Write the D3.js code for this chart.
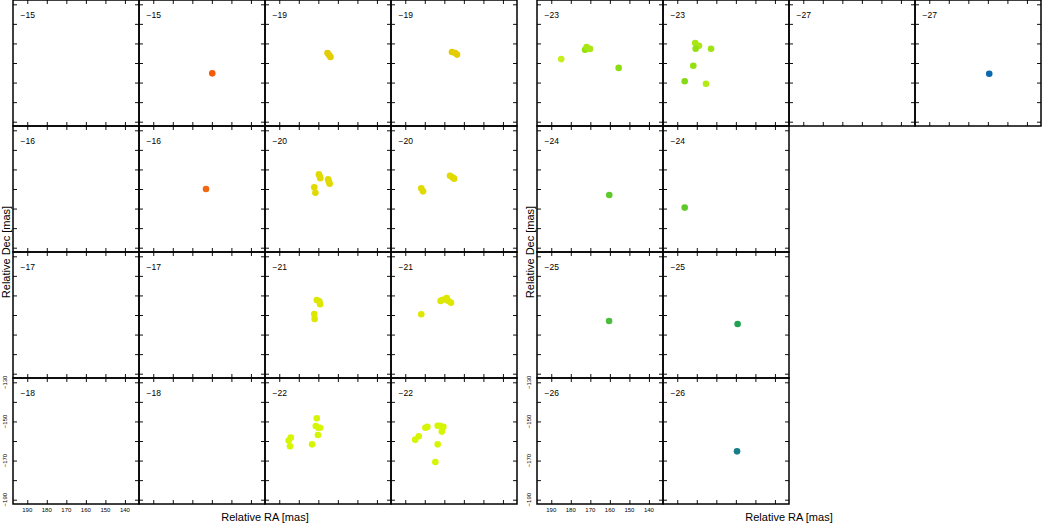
<!DOCTYPE html>
<html>
<head>
<meta charset="utf-8">
<script src="https://cdn.jsdelivr.net/npm/d3@7"></script>
<style>
  body { margin: 0; background: #fff; }
  svg { display: block; font-family: "Liberation Sans", Arial, sans-serif; }
</style>
</head>
<body>
<svg id="chart" width="1042" height="523"></svg>
<script>
// axis ticks
const raTicks = [190, 180, 170, 160, 150, 140]
const decTicks = [-130, -140, -150, -160, -170, -180, -190]
const decLabels = [-130, -150, -170, -190]
const raLabels = [190, 180, 170, 160, 150, 140]

// panel titles (velocity channel), [row][col]; null = no panel
const leftTitles = [
    [-15, -15, -19, -19],
    [-16, -16, -20, -20],
    [-17, -17, -21, -21],
    [-18, -18, -22, -22]
]
const rightTitles = [
    [-23, -23, -27, -27],
    [-24, -24, null, null],
    [-25, -25, null, null],
    [-26, -26, null, null]
]

// spots: [RA mas, Dec mas, velocity km/s]
const s15b = [[159.8, -165.3, -15]]
const s16b = [[163.0, -160.0, -16]]
const s19a = [[165.3, -154.9, -19], [164.5, -155.9, -19], [163.8, -156.9, -19]]
const s19b = [[166.1, -154.4, -19], [164.5, -154.9, -19], [163.5, -155.7, -19]]
const s20a = [[169.7, -152.5, -20], [169.3, -153.5, -20], [169.0, -154.5, -20],
              [165.0, -155.0, -20], [164.6, -156.2, -20], [164.2, -157.3, -20],
              [172.1, -159.1, -20], [171.5, -161.9, -20]]
const s20b = [[167.1, -153.2, -20], [165.9, -154.0, -20], [165.0, -154.7, -20],
              [181.8, -159.6, -20], [180.9, -161.2, -20]]
const s21a = [[170.8, -152.3, -21], [169.5, -153.0, -21], [169.1, -154.5, -21],
              [172.1, -159.5, -21], [171.9, -162.0, -21]]
const s21b = [[171.9, -152.8, -21], [170.8, -152.2, -21], [168.8, -151.3, -21],
              [168.1, -152.7, -21], [166.6, -153.7, -21], [181.8, -159.6, -21]]
const s22a = [[170.8, -148.4, -22], [171.3, -152.3, -22], [170.0, -153.2, -22],
              [169.1, -153.2, -22], [170.2, -156.9, -22], [173.2, -161.7, -22],
              [184.1, -158.3, -22], [185.2, -159.8, -22], [184.5, -162.7, -22]]
const s22b = [[179.7, -153.2, -22], [178.7, -152.8, -22], [183.1, -157.6, -22],
              [184.9, -159.3, -22], [173.4, -152.2, -22], [172.2, -152.2, -22],
              [170.5, -152.8, -22], [171.3, -155.2, -22], [173.4, -161.7, -22],
              [174.6, -170.7, -22]]
const s23a = [[184.9, -158.0, -22.6], [172.7, -153.2, -23.1], [171.9, -151.8, -22.9],
              [170.2, -152.8, -22.9], [155.5, -162.5, -23.2]]
const s23b = [[180.8, -149.8, -22.9], [178.9, -151.2, -22.9], [180.6, -152.7, -23.1],
              [172.7, -152.7, -23.0], [181.8, -161.4, -23.1], [186.2, -169.3, -23.3],
              [175.3, -170.6, -22.8]]
const s24a = [[160.3, -163.1, -24]]
const s24b = [[186.2, -169.5, -24]]
const s25a = [[160.4, -163.1, -24.6]]
const s25b = [[159.1, -164.6, -25.2]]
const s26b = [[159.4, -165.3, -26]]
const s27b = [[159.3, -165.5, -27]]

const leftSpots = [
    [[], s15b, s19a, s19b],
    [[], s16b, s20a, s20b],
    [[], [], s21a, s21b],
    [[], [], s22a, s22b]
]
const rightSpots = [
    [s23a, s23b, [], s27b],
    [s24a, s24b, [], []],
    [s25a, s25b, [], []],
    [[], s26b, [], []]
]

const svg = d3.select('#chart')
const size = 126
const groups = [
    {x0: 13, titles: leftTitles, spots: leftSpots},
    {x0: 537, titles: rightTitles, spots: rightSpots}
]

const xScale = d3.scaleLinear().domain([197.3, 132.8]).range([0, size])
const yScale = d3.scaleLinear().domain([-127.8, -192.2]).range([0, size])

const colour = d3.scaleLinear()
    .domain([-27, -26, -25.2, -24.6, -24, -23.2, -23, -22.6, -22, -21, -20, -19, -16, -15])
    .range(['#0c69ad', '#177f8c', '#22a152', '#4cbd3e', '#5ec92a', '#8cdc12', '#9ee410',
            '#c4ef1c', '#d6f500', '#dde700', '#e0da00', '#e3cd00', '#f06912', '#f45a08'])
    .clamp(true)

groups.forEach(grp => {
    grp.titles.forEach((row, r) => {
        row.forEach((title, c) => {
            if (title === null) return
            const g = svg.append('g')
                .attr('transform', `translate(${grp.x0 + c*size},${r*size})`)

            // inward ticks on all four sides
            const noText = () => ''
            g.append('g').call(d3.axisTop(xScale).tickValues(raTicks).tickSize(-4).tickFormat(noText))
            g.append('g').attr('transform', `translate(0,${size})`)
                .call(d3.axisBottom(xScale).tickValues(raTicks).tickSize(-4).tickFormat(noText))
            g.append('g').call(d3.axisLeft(yScale).tickValues(decTicks).tickSize(-4).tickFormat(noText))
            g.append('g').attr('transform', `translate(${size},0)`)
                .call(d3.axisRight(yScale).tickValues(decTicks).tickSize(-4).tickFormat(noText))
            g.selectAll('.domain').remove()
            g.selectAll('.tick line').attr('stroke', '#111').attr('stroke-width', 1)

            g.append('rect')
                .attr('width', size).attr('height', size)
                .attr('fill', 'none')
                .attr('stroke', '#000')
                .attr('stroke-width', 1.5)

            g.append('text')
                .attr('x', 7.5).attr('y', 18)
                .attr('font-size', 8.5)
                .text('\u2212' + Math.abs(title))

            g.selectAll('circle.spot')
                .data(grp.spots[r][c])
                .join('circle')
                .attr('class', 'spot')
                .attr('cx', d => xScale(d[0]))
                .attr('cy', d => yScale(d[1]))
                .attr('r', 3.3)
                .attr('fill', d => colour(d[2]))

            // tick labels only on bottom-left panel
            if (r === 3 && c === 0) {
                g.selectAll('text.ra')
                    .data(raLabels)
                    .join('text')
                    .attr('class', 'ra')
                    .attr('x', d => xScale(d))
                    .attr('y', size + 8)
                    .attr('text-anchor', 'middle')
                    .attr('font-size', 6)
                    .text(d => d)
                g.selectAll('text.dec')
                    .data(decLabels)
                    .join('text')
                    .attr('class', 'dec')
                    .attr('transform', d => `translate(-6.5,${yScale(d)}) rotate(-90)`)
                    .attr('text-anchor', 'middle')
                    .attr('font-size', 6)
                    .text(d => '\u2212' + Math.abs(d))
            }
        })
    })

    // axis titles
    svg.append('text')
        .attr('x', grp.x0 + 2*size)
        .attr('y', 520.5)
        .attr('text-anchor', 'middle')
        .attr('font-size', 11)
        .text('Relative RA [mas]')

    svg.append('text')
        .attr('transform', `translate(${grp.x0 - 3.5},${2*size}) rotate(-90)`)
        .attr('text-anchor', 'middle')
        .attr('font-size', 11)
        .text('Relative Dec [mas]')
})
</script>
</body>
</html>
